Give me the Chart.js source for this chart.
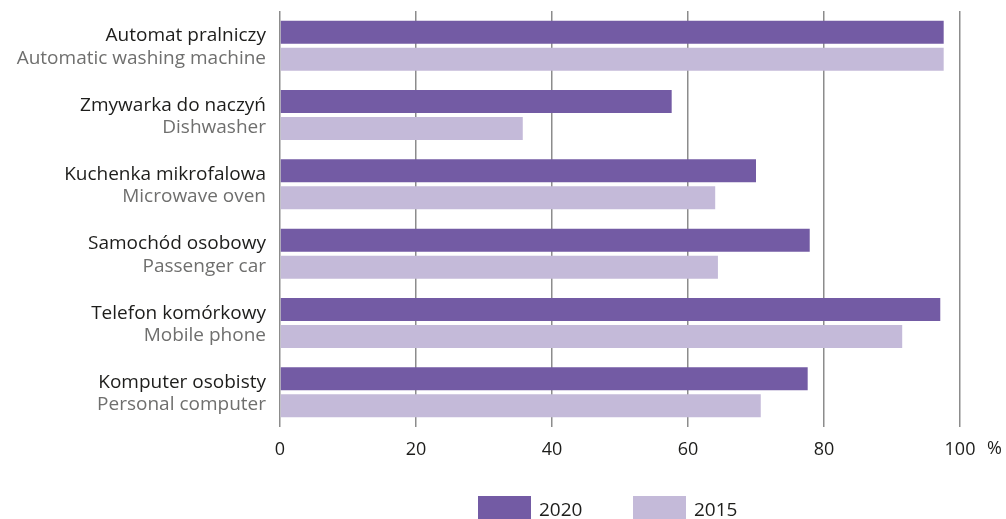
<!DOCTYPE html>
<html>
<head>
<meta charset="utf-8">
<script src="https://cdn.jsdelivr.net/npm/chart.js@4"></script>
<style>
  html, body { margin: 0; padding: 0; background: #fff; }
  #wrap { width: 1006px; height: 519px; position: relative; }
</style>
</head>
<body>
<div id="wrap"><canvas id="chart"></canvas></div>
<script>
// categories: Polish name + English translation
var categoriesPl = ['Automat pralniczy', 'Zmywarka do naczyń', 'Kuchenka mikrofalowa', 'Samochód osobowy', 'Telefon komórkowy', 'Komputer osobisty'];
var categoriesEn = ['Automatic washing machine', 'Dishwasher', 'Microwave oven', 'Passenger car', 'Mobile phone', 'Personal computer'];

var seriesLabels = ['2020', '2015'];
var values2020 = [97.6, 57.6, 70.0, 77.9, 97.1, 77.6];
var values2015 = [97.6, 35.7, 64.0, 64.4, 91.5, 70.7];

var xTicks = [0, 20, 40, 60, 80, 100];
var unitLabel = '%';

var FONT = 'Open Sans';
var colDark = '#735ba4';
var colLight = '#c4bad9';

// draws the two-colour category labels, the % sign and the legend
var labelsPlugin = {
    id: 'labelsPlugin',
    afterDraw: function(chart) {
        var ctx = chart.ctx;
        var y = chart.scales.y;
        var x = chart.scales.x;
        ctx.save();
        ctx.textAlign = 'right';
        ctx.textBaseline = 'alphabetic';
        ctx.font = '19px "' + FONT + '"';
        categoriesPl.forEach(function(name, i) {
            var c = y.getPixelForValue(i);
            ctx.fillStyle = '#1d1d1b';
            ctx.fillText(name, 266, c - 4.5);
            ctx.fillStyle = '#6f6f6e';
            ctx.fillText(categoriesEn[i], 266, c + 18);
        });

        // unit after the last tick
        ctx.textAlign = 'left';
        ctx.fillStyle = '#1d1d1b';
        ctx.font = '18px "' + FONT + '"';
        ctx.fillText(unitLabel, x.getPixelForValue(100) + 27, 454);

        // legend
        ctx.font = '19px "' + FONT + '"';
        var items = chart.data.datasets;
        var lx = [478, 633];
        items.forEach(function(ds, i) {
            ctx.fillStyle = ds.backgroundColor;
            ctx.fillRect(lx[i], 496, 53, 23);
            ctx.fillStyle = '#1d1d1b';
            ctx.fillText(ds.label, lx[i] + 61, 516);
        });
        ctx.restore();
    }
};

var ctx = document.getElementById('chart').getContext('2d');
new Chart(ctx, {
    type: 'bar',
    data: {
        labels: categoriesPl,
        datasets: [{
            label: seriesLabels[0],
            data: values2020,
            backgroundColor: colDark,
            categoryPercentage: 0.78,
            barPercentage: 0.85
        }, {
            label: seriesLabels[1],
            data: values2015,
            backgroundColor: colLight,
            categoryPercentage: 0.78,
            barPercentage: 0.85
        }]
    },
    options: {
        indexAxis: 'y',
        responsive: true,
        maintainAspectRatio: false,
        animation: false,
        layout: {
            padding: { left: 280, right: 46, top: 11, bottom: 0 }
        },
        plugins: {
            legend: { display: false },
            tooltip: { enabled: false }
        },
        scales: {
            x: {
                min: 0,
                max: 100,
                afterBuildTicks: function(scale) {
                    scale.ticks = xTicks.map(function(v) { return { value: v }; });
                },
                afterFit: function(scale) {
                    scale.height = 92;
                },
                grid: {
                    color: '#8c8c8c',
                    lineWidth: 1.5,
                    drawTicks: false
                },
                border: { display: false },
                ticks: {
                    padding: 12,
                    color: '#1d1d1b',
                    font: { family: FONT, size: 18 }
                }
            },
            y: {
                display: false,
                grid: { display: false }
            }
        }
    },
    plugins: [labelsPlugin]
});
</script>
</body>
</html>
